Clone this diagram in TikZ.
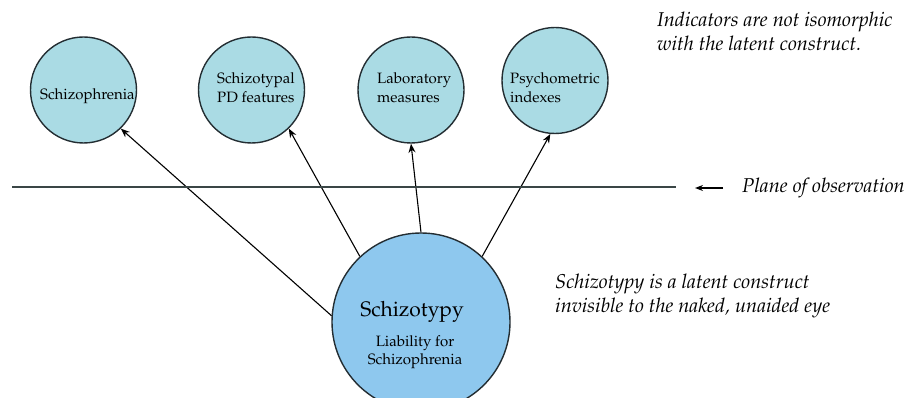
\documentclass[tikz,border=0pt]{standalone}
\usepackage[T1]{fontenc}
\usepackage{mathpazo}
\usetikzlibrary{arrows.meta}
\definecolor{smallfill}{RGB}{170,219,228}
\definecolor{bigfill}{RGB}{142,200,238}
\definecolor{edge}{RGB}{35,45,50}
\definecolor{planecol}{RGB}{58,70,70}
\tikzset{
  indicator/.style={circle,draw=edge,line width=1.4pt,fill=smallfill,minimum size=106pt,inner sep=0pt},
  latent/.style={circle,draw=edge,line width=1.4pt,fill=bigfill,minimum size=178pt,inner sep=0pt},
  ctext/.style={align=left,anchor=west,font=\fontsize{15}{19}\selectfont,inner sep=0pt},
  note/.style={align=left,anchor=west,font=\fontsize{20}{24}\selectfont\itshape,inner sep=0pt},
  conn/.style={line width=1.1pt,-{Stealth[length=9pt,width=7pt]}},
}
\begin{document}
\begin{tikzpicture}[x=1pt,y=-1pt]
\useasboundingbox (0,0) rectangle (912,398);
\node[indicator] (s1) at (83.5,90) {};
\node[indicator] (s2) at (251.5,90) {};
\node[indicator] (s3) at (411,90) {};
\node[indicator] (s4) at (555,80.5) {};
\node[latent] (big) at (421,322) {};
\node[ctext] (t1) at (40,96) {Schizophrenia};
\node[ctext] (t2) at (217,88) {Schizotypal\\PD features};
\node[ctext] (t3) at (377,88) {Laboratory\\measures};
\node[ctext] (t4) at (510,88) {Psychometric\\indexes};
\node[anchor=center,inner sep=0pt,font=\fontsize{21}{25}\selectfont] (tb) at (412,312) {Schizotypy};
\node[anchor=center,inner sep=0pt,align=center,font=\fontsize{15}{18}\selectfont] (tl) at (415,352) {Liability for\\Schizophrenia};
\draw[conn] (big.176.8) -- (s1.-46);
\draw[conn] (big.133.7) -- (s2.-46);
\draw[conn] (big.90.6) -- (s3.-90);
\draw[conn] (big.47.2) -- (s4.-95);
\coordinate (pl) at (12,187.5);
\coordinate (pr) at (676,187.5);
\draw[planecol,line width=2pt] (pl) -- (pr);
\node[note] (plane) at (742,188) {Plane of observation};
\coordinate (pa) at (723,188);
\draw[line width=1.1pt,-{Stealth[length=8pt,width=6pt]}] (pa) -- ++(-28,0);
\node[note] (n1) at (657,31) {Indicators are not isomorphic\\with the latent construct.};
\node[note] (n2) at (555,296) {Schizotypy is a latent construct\\invisible to the naked, unaided eye};
\end{tikzpicture}
\end{document}
